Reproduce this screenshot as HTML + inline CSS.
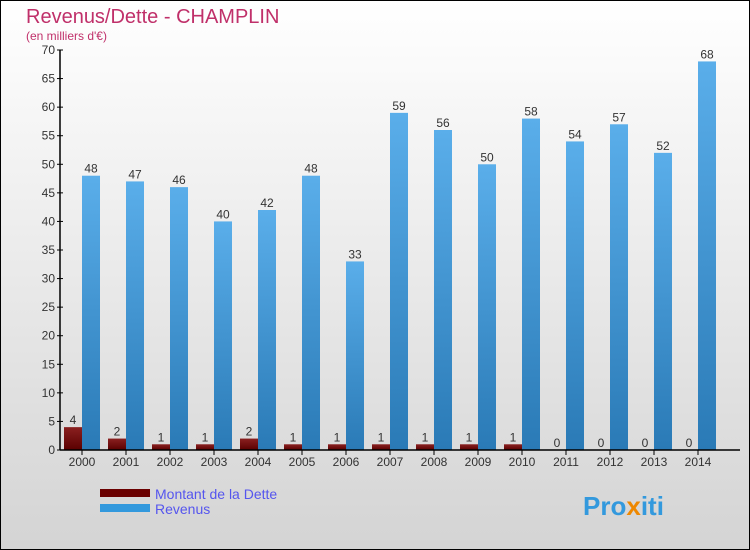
<!DOCTYPE html>
<html><head><meta charset="utf-8"><style>
body{margin:0}
#c{width:750px;height:550px;position:relative;box-sizing:border-box;border:1px solid #000;background:linear-gradient(#ffffff,#d4d4d4);font-family:"Liberation Sans",sans-serif;overflow:hidden}
</style></head><body>
<div id="c">
<svg id="s" width="750" height="550" style="position:absolute;left:-1px;top:-1px">
<defs>
<linearGradient id="gb" x1="0" x2="0" y1="0" y2="1"><stop offset="0" stop-color="#5aaeea"/><stop offset="1" stop-color="#2a7ab6"/></linearGradient>
<linearGradient id="gd" x1="0" x2="0" y1="0" y2="1"><stop offset="0" stop-color="#8a2020"/><stop offset="1" stop-color="#5a0000"/></linearGradient>
</defs>
<text x="26" y="23" font-size="20" fill="#c0306a">Revenus/Dette - CHAMPLIN</text>
<text x="26" y="40" font-size="12" fill="#c0306a">(en milliers d'€)</text>
<rect x="100" y="489" width="50" height="8" fill="#6a0000"/>
<rect x="100" y="504" width="50" height="8" fill="#3399dd"/>
<text x="155" y="499" font-size="14" fill="#5555ee">Montant de la Dette</text>
<text x="155" y="514" font-size="14" fill="#5555ee">Revenus</text>
<text x="583" y="515" font-size="26" font-weight="bold" fill="#3399dd">Pro<tspan fill="#ee8800">x</tspan>iti</text>
</svg>
</div>
<script>
const categories=["2000","2001","2002","2003","2004","2005","2006","2007","2008","2009","2010","2011","2012","2013","2014"];
const dette=[4,2,1,1,2,1,1,1,1,1,1,0,0,0,0];
const revenus=[48,47,46,40,42,48,33,59,56,50,58,54,57,52,68];
const yTicks=[0,5,10,15,20,25,30,35,40,45,50,55,60,65,70];
const NS="http://www.w3.org/2000/svg";
const s=document.getElementById('s');
const y=v=>450-v*400/70;
const x=i=>82+i*44;
function mk(t,a){const e=document.createElementNS(NS,t);for(const k in a)e.setAttribute(k,a[k]);s.appendChild(e);return e;}
const ax=mk('line',{x1:60,y1:50,x2:60,y2:450,stroke:'#000','stroke-width':1.5});


yTicks.forEach(v=>{
 const l=mk('line',{x1:57,x2:63,y1:y(v),y2:y(v),stroke:'#000'});
 
 
 const t=mk('text',{x:55,y:y(v)+4,'font-size':12,fill:'#333','text-anchor':'end'});
 t.textContent=v;
 
 
});
categories.forEach((c,i)=>{
 const d=mk('rect',{x:x(i)-18,y:y(dette[i]),width:18,height:450-y(dette[i]),fill:'url(#gd)'});
 
 
 const r=mk('rect',{x:x(i),y:y(revenus[i]),width:18,height:450-y(revenus[i]),fill:'url(#gb)'});
 
 
 const dl=mk('text',{x:x(i)-9,y:y(dette[i])-3,'font-size':12,fill:'#333','text-anchor':'middle'});
 dl.textContent=dette[i];
 
 
 const rl=mk('text',{x:x(i)+9,y:y(revenus[i])-3,'font-size':12,fill:'#333','text-anchor':'middle'});
 rl.textContent=revenus[i];
 
 
 const tk=mk('line',{x1:x(i),x2:x(i),y1:450,y2:455,stroke:'#000'});
 
 
 const xl=mk('text',{x:x(i),y:466,'font-size':12,fill:'#333','text-anchor':'middle'});
 xl.textContent=c;
 
 
});
const bx=mk('line',{x1:60,y1:450,x2:740,y2:450,stroke:'#000','stroke-width':1.5});


</script>
</body></html>
